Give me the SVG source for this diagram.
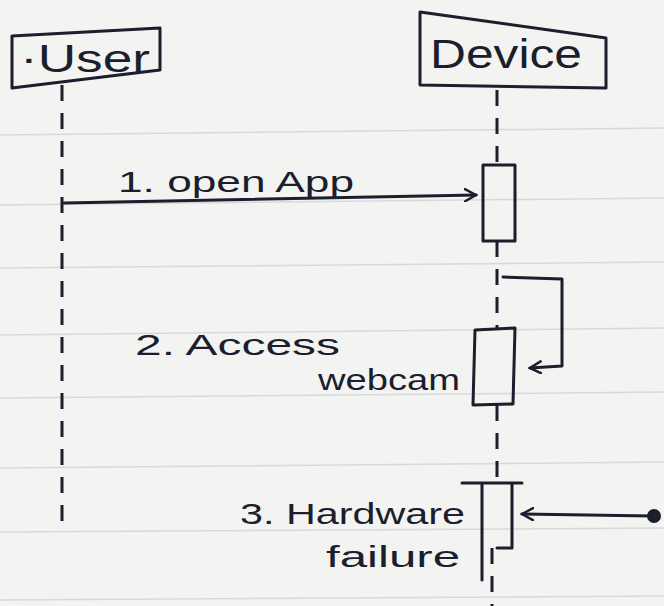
<svg xmlns="http://www.w3.org/2000/svg" width="664" height="606" viewBox="0 0 664 606">
<defs>
<style>
.ink{stroke:#1b1e2c;fill:none;stroke-width:3;stroke-linecap:round;stroke-linejoin:round}
.life{stroke:#1b1e2c;fill:none;stroke-width:3;stroke-dasharray:16 12}
.rule{stroke:#d6d9dc;stroke-width:1.5}
.t{font-family:"Liberation Sans","DejaVu Sans",sans-serif;fill:#1b1e2c}
</style>
<marker id="arr" viewBox="0 0 14 14" refX="12" refY="7" markerWidth="14" markerHeight="14" markerUnits="userSpaceOnUse" orient="auto">
<path d="M1,1 L12,7 L1,13" fill="none" stroke="#1b1e2c" stroke-width="2.5" stroke-linecap="round"/>
</marker>
</defs>
<rect width="664" height="606" fill="#f3f3f1"/>
<g id="paper">
<line class="rule" x1="0" y1="135" x2="664" y2="128"/>
<line class="rule" x1="0" y1="205" x2="664" y2="198"/>
<line class="rule" x1="0" y1="268" x2="664" y2="262"/>
<line class="rule" x1="0" y1="335" x2="664" y2="328"/>
<line class="rule" x1="0" y1="398" x2="664" y2="392"/>
<line class="rule" x1="0" y1="468" x2="664" y2="462"/>
<line class="rule" x1="0" y1="532" x2="664" y2="528"/>
<line class="rule" x1="0" y1="600" x2="664" y2="596"/>
</g>
<g id="user">
<path class="ink" d="M12,36 L160,28 L160,70 L12,88 Z"/>
<text class="t" x="20" y="72" font-size="38" textLength="130" lengthAdjust="spacingAndGlyphs">·User</text>
</g>
<g id="device">
<path class="ink" d="M420,12 L606,38 L606,88 L420,85 Z"/>
<text class="t" x="430" y="68" font-size="40" textLength="152" lengthAdjust="spacingAndGlyphs">Device</text>
</g>
<g id="activations">
<rect class="ink" x="483" y="165" width="32" height="76"/>
<path class="ink" d="M475,330 L515,328 L513,404 L473,405 Z"/>
<path class="ink" d="M462,483 L522,483 M482,483 L482,580 M512,483 L512,548 L497,548"/>
</g>
<g id="connectors">
<path class="life" d="M62,85 L62,530"/>
<path class="life" d="M497,90 L497,165 M497,241 L497,328 M497,405 L497,483 M492,548 L492,606"/>
<path class="ink" d="M64,203 L476,195" marker-end="url(#arr)"/>
<path class="ink" d="M503,277 L562,279 L562,366 L530,368" marker-end="url(#arr)"/>
<circle cx="654" cy="516" r="7" fill="#1b1e2c"/>
<path class="ink" d="M652,516 L522,514" marker-end="url(#arr)"/>
</g>
<g id="labels">
<text class="t" x="118" y="192" font-size="30" textLength="236" lengthAdjust="spacingAndGlyphs">1. open App</text>
<text class="t" x="135" y="355" font-size="30" textLength="205" lengthAdjust="spacingAndGlyphs">2. Access</text>
<text class="t" x="318" y="390" font-size="30" textLength="142" lengthAdjust="spacingAndGlyphs">webcam</text>
<text class="t" x="240" y="524" font-size="30" textLength="225" lengthAdjust="spacingAndGlyphs">3. Hardware</text>
<text class="t" x="326" y="567" font-size="30" textLength="134" lengthAdjust="spacingAndGlyphs">failure</text>
</g>
</svg>
